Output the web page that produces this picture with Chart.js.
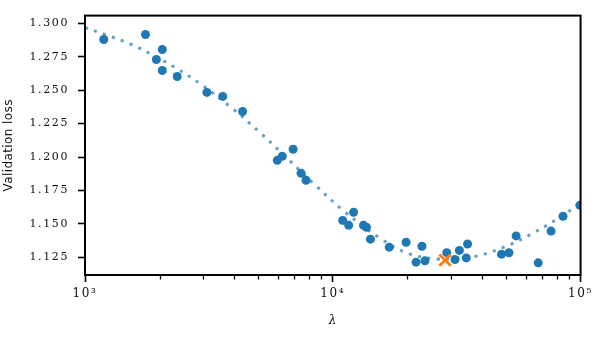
<!DOCTYPE html>
<html>
<head>
<meta charset="utf-8">
<script src="https://cdn.jsdelivr.net/npm/chart.js@4"></script>
<style>
  html, body { margin: 0; padding: 0; background: #fff; }
  canvas { display: block; }
</style>
</head>
<body>
<canvas id="lossChart" width="598" height="343"></canvas>
<script>
// validation runs (lambda, loss)
var lambdaRuns = [1191, 1754, 2051, 1941, 2051, 2355, 3105, 3597, 4325, 5970, 6252, 6918, 7447, 7798,
    10965, 11588, 12134, 13305, 13677, 14191, 16904, 19770, 21677, 23550, 22909, 28840, 31140, 32430,
    34990, 34570, 47980, 51400, 54950, 67450, 76040, 84920, 99400];
var lossRuns = [1.2878, 1.2916, 1.2804, 1.2729, 1.2647, 1.2602, 1.2483, 1.2453, 1.2340, 1.1975, 1.2006, 1.2058, 1.1879, 1.1826,
    1.1526, 1.1490, 1.1587, 1.1490, 1.1475, 1.1386, 1.1326, 1.1363, 1.1214, 1.1224, 1.1333, 1.1285, 1.1234, 1.1302,
    1.1350, 1.1246, 1.1274, 1.1284, 1.1410, 1.1209, 1.1446, 1.1557, 1.1639];

// fitted curve
var fitLambda = [1000, 1202, 1551, 1825, 2318, 2903, 3873, 5092, 6607, 8528, 11138, 15955, 20386, 26546, 31623, 38019, 49340, 63096, 80168, 100000];
var fitLoss = [1.2968, 1.2916, 1.2839, 1.2774, 1.2667, 1.2550, 1.2373, 1.2182, 1.1983, 1.1787, 1.1593, 1.1378, 1.1276, 1.1237, 1.1242, 1.1259, 1.1328, 1.1423, 1.1535, 1.1655];

// best lambda
var bestLambda = [28400];
var bestLoss = [1.1229];

var xTickValues = [1000, 2000, 3000, 4000, 5000, 6000, 7000, 8000, 9000,
    10000, 20000, 30000, 40000, 50000, 60000, 70000, 80000, 90000, 100000];
var xMajorLabels = { 1000: "10³", 10000: "10⁴", 100000: "10⁵" };
var yTickValues = [1.125, 1.150, 1.175, 1.200, 1.225, 1.250, 1.275, 1.300];

function toPoints(xs, ys) {
    return xs.map(function (x, i) { return { x: x, y: ys[i] }; });
}

// tick labels are widely spaced (serif), axis titles are not
var labelSpacing = "1.6px";
var titleSpacing = "0.4px";

var frameAndTicks = {
    id: "frameAndTicks",
    beforeLayout: function (chart) { chart.ctx.letterSpacing = labelSpacing; },
    beforeDraw: function (chart) { chart.ctx.letterSpacing = titleSpacing; },
    afterDatasetsDraw: function (chart) { chart.ctx.letterSpacing = labelSpacing; },
    afterDraw: function (chart) {
        var ctx = chart.ctx, a = chart.chartArea, xs = chart.scales.x;
        ctx.save();
        ctx.strokeStyle = "#000";
        ctx.lineWidth = 1.3;
        xs.ticks.forEach(function (t) {
            if (t.major) return;
            var px = Math.round(xs.getPixelForValue(t.value)) + 0.5;
            ctx.beginPath();
            ctx.moveTo(px, a.bottom);
            ctx.lineTo(px, a.bottom + 4.5);
            ctx.stroke();
        });
        ctx.lineWidth = 2;
        ctx.strokeRect(a.left, a.top, a.right - a.left, a.bottom - a.top);
        ctx.restore();
    }
};

var myChart = new Chart(document.getElementById("lossChart").getContext("2d"), {
    type: "scatter",
    data: {
        datasets: [{
            data: toPoints(bestLambda, bestLoss),
            pointStyle: "crossRot",
            pointRadius: 8,
            borderColor: "#ff7f0e",
            borderWidth: 3,
            order: 1
        }, {
            data: toPoints(lambdaRuns, lossRuns),
            backgroundColor: "#1f77b4",
            borderWidth: 0,
            pointRadius: 4.5,
            order: 2
        }, {
            data: toPoints(fitLambda, fitLoss),
            showLine: true,
            pointRadius: 0,
            borderColor: "rgba(31,119,180,0.7)",
            borderWidth: 3,
            borderDash: [3, 6.5],
            tension: 0.4,
            order: 3
        }]
    },
    options: {
        responsive: false,
        animation: false,
        devicePixelRatio: 1,
        layout: { padding: { left: 0, top: 15, right: 13, bottom: 0 } },
        plugins: { legend: { display: false }, tooltip: { enabled: false } },
        scales: {
            x: {
                type: "logarithmic",
                min: 1000,
                max: 100000,
                afterBuildTicks: function (scale) {
                    scale.ticks = xTickValues.map(function (v) {
                        return { value: v, major: xMajorLabels[v] !== undefined };
                    });
                },
                afterFit: function (scale) { scale.height = 68; },
                border: { display: false },
                grid: {
                    drawOnChartArea: false,
                    tickLength: 7,
                    tickWidth: 1.6,
                    tickColor: function (c) { return c.tick && c.tick.major ? "#000" : "rgba(0,0,0,0)"; }
                },
                ticks: {
                    z: 1,
                    autoSkip: false,
                    maxRotation: 0,
                    padding: 5,
                    color: "#111",
                    font: { family: "DejaVu Serif", size: 12 },
                    callback: function (value) { return xMajorLabels[value] || ""; }
                },
                title: {
                    display: true,
                    text: "λ",
                    color: "#111",
                    font: { family: "DejaVu Serif", style: "italic", size: 12 },
                    padding: { top: 0, bottom: 15 }
                }
            },
            y: {
                min: 1.1118,
                max: 1.3057,
                afterBuildTicks: function (scale) {
                    scale.ticks = yTickValues.map(function (v) { return { value: v }; });
                },
                afterFit: function (scale) { scale.width = 85; },
                border: { display: false },
                grid: {
                    drawOnChartArea: false,
                    tickLength: 7,
                    tickWidth: 1.6,
                    tickColor: "#000"
                },
                ticks: {
                    z: 1,
                    padding: 9,
                    color: "#111",
                    font: { family: "DejaVu Serif", size: 11 },
                    callback: function (value) { return value.toFixed(3); }
                },
                title: {
                    display: true,
                    text: "Validation loss",
                    color: "#111",
                    font: { family: "DejaVu Sans", size: 12 },
                    padding: 2
                }
            }
        }
    },
    plugins: [frameAndTicks]
});
</script>
</body>
</html>
